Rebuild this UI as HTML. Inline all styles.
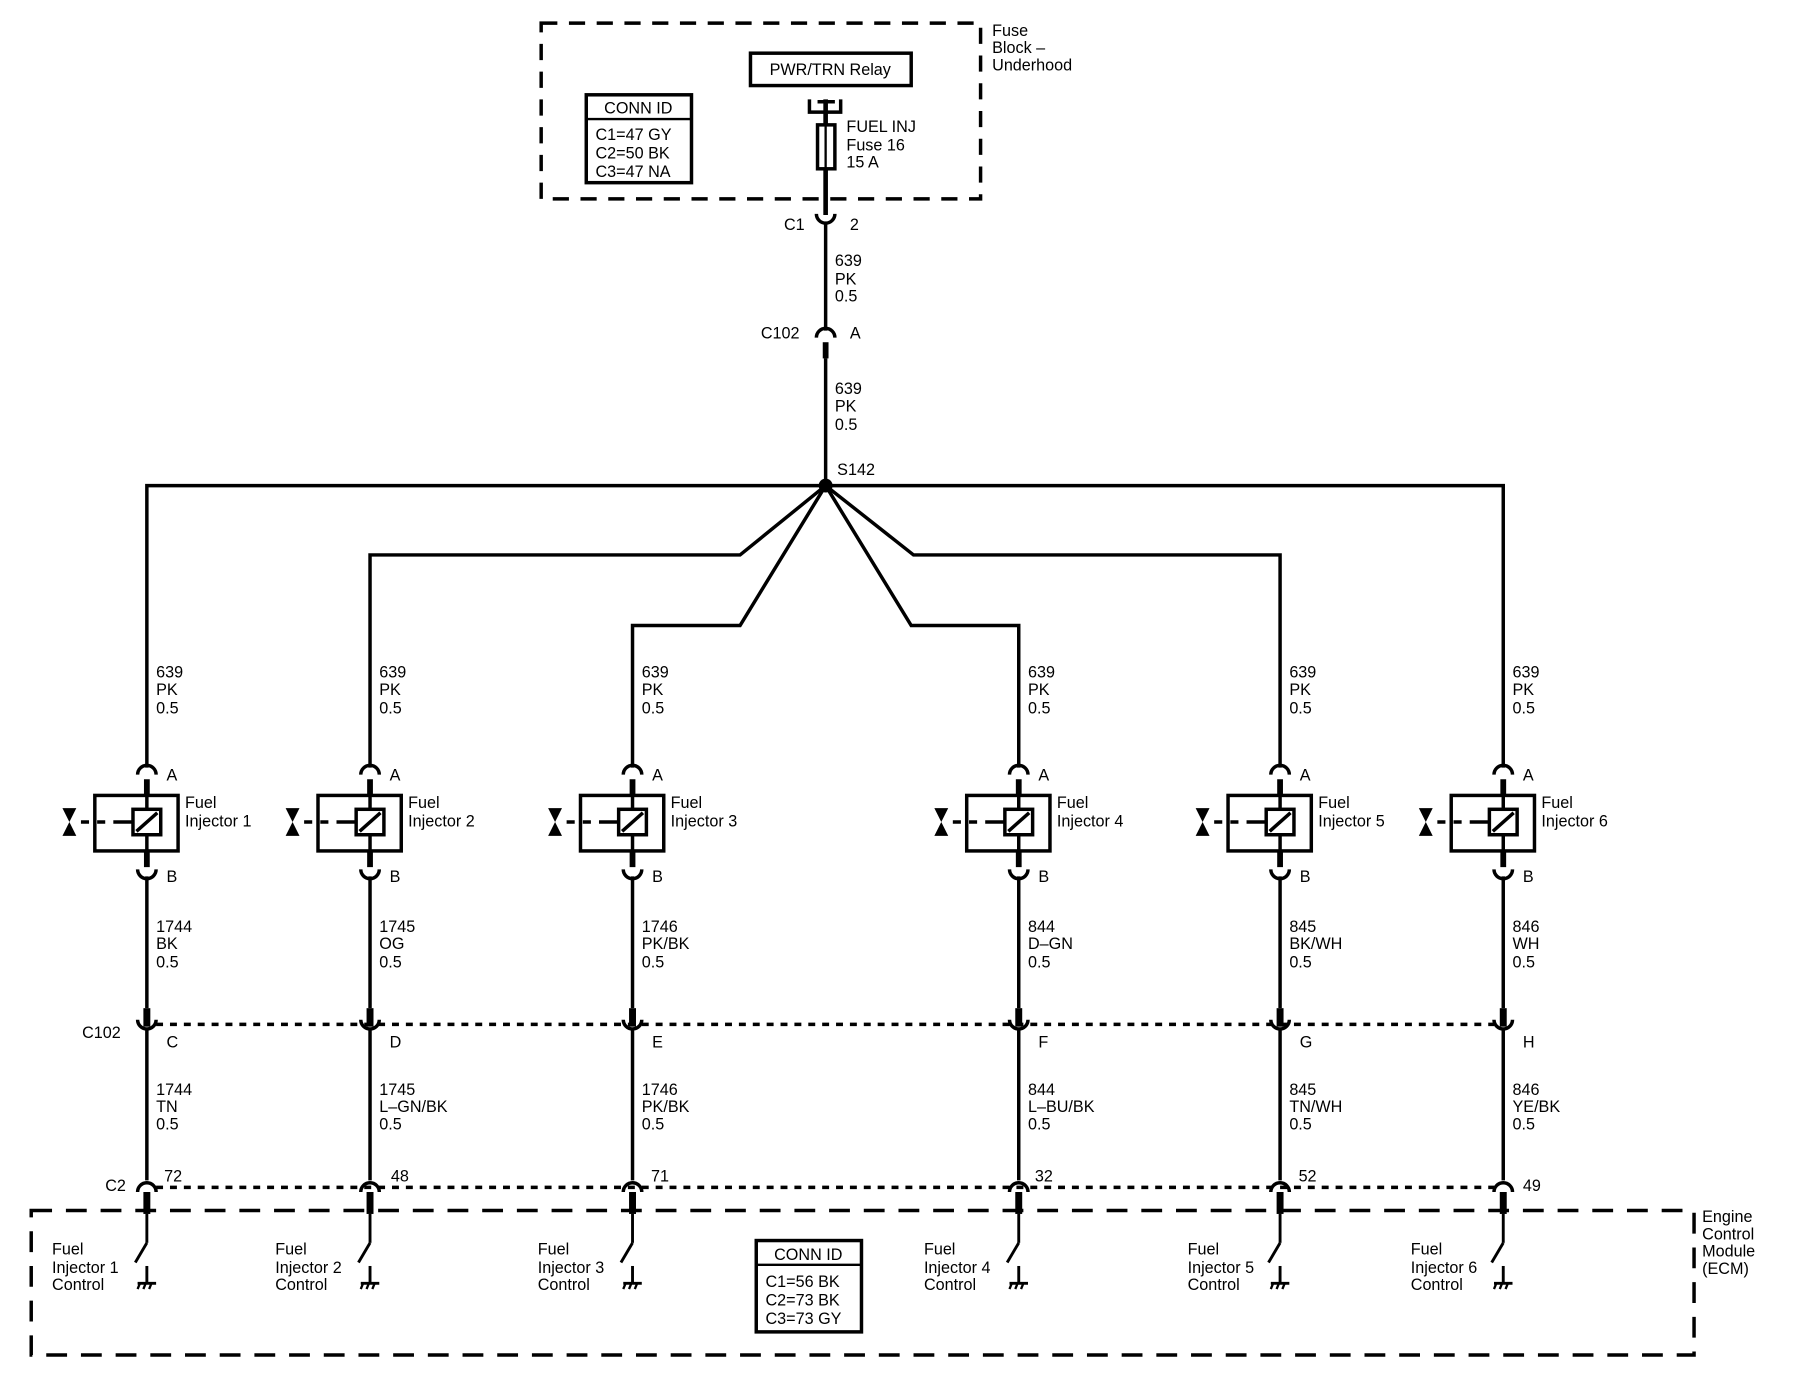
<!DOCTYPE html>
<html><head><style>
html,body{margin:0;padding:0;background:#fff;}
svg{display:block;}
text{font-family:"Liberation Sans",sans-serif;font-size:14px;fill:#000;}
</style></head><body>
<svg width="1812" height="1392" viewBox="0 0 1567 1204" preserveAspectRatio="none" xmlns="http://www.w3.org/2000/svg">
<defs>
<g id="col" fill="none" stroke="#000">
  <path d="M-8,670 A8,8 0 0 1 8,670" stroke-width="3"/>
  <line x1="0" y1="674" x2="0" y2="750" stroke-width="5"/>
  <rect x="-45" y="688" width="72" height="48" stroke-width="3" fill="#fff"/>
  <line x1="0" y1="688" x2="0" y2="736" stroke-width="3"/>
  <rect x="-12" y="700" width="24" height="22" stroke-width="3" fill="#fff"/>
  <line x1="-9" y1="719" x2="9" y2="703" stroke-width="3"/>
  <path d="M-57,711 H-50 M-43,711 H-36 M-29,711 H-12" stroke-width="3"/>
  <polygon points="-73,699 -61,699 -67,711" fill="#000" stroke="none"/>
  <polygon points="-73,723 -61,723 -67,711" fill="#000" stroke="none"/>
  <path d="M-8,752 A8,8 0 0 0 8,752" stroke-width="3"/>
  <line x1="0" y1="758" x2="0" y2="872" stroke-width="3"/>
  <line x1="0" y1="872" x2="0" y2="888" stroke-width="6"/>
  <path d="M-8,882 A8,8 0 0 0 8,882" stroke-width="3"/>
  <line x1="0" y1="890" x2="0" y2="1021" stroke-width="3"/>
  <path d="M-8,1031 A8,8 0 0 1 8,1031" stroke-width="3"/>
  <line x1="0" y1="1031" x2="0" y2="1050" stroke-width="6"/>
  <line x1="0" y1="1050" x2="0" y2="1075" stroke-width="2.5"/>
  <line x1="0" y1="1075" x2="-10" y2="1092" stroke-width="2.5"/>
  <line x1="0" y1="1095" x2="0" y2="1110" stroke-width="2.5"/>
  <line x1="-8" y1="1110" x2="8" y2="1110" stroke-width="2.5"/>
  <path d="M-6,1110 L-8,1115 M-1,1110 L-3,1115 M4,1110 L2,1115" stroke-width="2"/>
</g>
</defs>

<rect x="468" y="20" width="380" height="152" fill="none" stroke="#000" stroke-width="3" stroke-dasharray="14,10"/>
<text x="858" y="31">Fuse</text><text x="858" y="46">Block –</text><text x="858" y="61">Underhood</text>
<rect x="649" y="46" width="139" height="28" fill="none" stroke="#000" stroke-width="3"/>
<text x="718" y="65" text-anchor="middle">PWR/TRN Relay</text>
<rect x="507" y="82" width="91" height="76" fill="none" stroke="#000" stroke-width="3"/>
<line x1="507" y1="103" x2="598" y2="103" stroke="#000" stroke-width="2"/>
<text x="552" y="98" text-anchor="middle">CONN ID</text>
<text x="515" y="121">C1=47 GY</text><text x="515" y="137">C2=50 BK</text><text x="515" y="153">C3=47 NA</text>
<path d="M700,86 V97 H727 V86 M707,88 H722" fill="none" stroke="#000" stroke-width="3"/>
<line x1="714" y1="86" x2="714" y2="186" stroke="#000" stroke-width="4"/>
<rect x="707" y="108" width="15" height="38" fill="#fff" stroke="#000" stroke-width="3"/>
<line x1="714" y1="108" x2="714" y2="146" stroke="#000" stroke-width="2"/>
<text x="732" y="114">FUEL INJ</text><text x="732" y="130">Fuse 16</text><text x="732" y="145">15 A</text>
<path d="M706,185 A8,8 0 0 0 722,185" fill="none" stroke="#000" stroke-width="3"/>
<text x="678" y="199">C1</text><text x="735" y="199">2</text>
<line x1="714" y1="193" x2="714" y2="286" stroke="#000" stroke-width="3"/>
<text x="722" y="230">639</text><text x="722" y="246">PK</text><text x="722" y="261">0.5</text>
<path d="M706,292 A8,8 0 0 1 722,292" fill="none" stroke="#000" stroke-width="3"/>
<text x="658" y="293">C102</text><text x="735" y="293">A</text>
<line x1="714" y1="296" x2="714" y2="310" stroke="#000" stroke-width="5"/>
<line x1="714" y1="310" x2="714" y2="420" stroke="#000" stroke-width="3"/>
<text x="722" y="341">639</text><text x="722" y="356">PK</text><text x="722" y="372">0.5</text>
<text x="724" y="411">S142</text>

<g fill="none" stroke="#000" stroke-width="3">
<path d="M127,664 V420 H1300 V664"/>
<path d="M714,420 L640,480 H320 V664"/>
<path d="M714,420 L790,480 H1107 V664"/>
<path d="M714,420 L640,541 H547 V664"/>
<path d="M714,420 L788,541 H881 V664"/>
</g>
<circle cx="714" cy="420" r="6" fill="#000"/>

<line x1="135" y1="886" x2="1292" y2="886" stroke="#000" stroke-width="3" stroke-dasharray="6,6"/>
<line x1="135" y1="1027" x2="1292" y2="1027" stroke="#000" stroke-width="3" stroke-dasharray="6,6"/>

<rect x="27" y="1047" width="1438" height="125" fill="none" stroke="#000" stroke-width="3" stroke-dasharray="18,12"/>
<text x="1472" y="1057">Engine</text><text x="1472" y="1072">Control</text><text x="1472" y="1087">Module</text><text x="1472" y="1102">(ECM)</text>
<rect x="654" y="1073" width="91" height="79" fill="none" stroke="#000" stroke-width="3"/>
<line x1="654" y1="1094" x2="745" y2="1094" stroke="#000" stroke-width="2"/>
<text x="699" y="1090" text-anchor="middle">CONN ID</text>
<text x="662" y="1113">C1=56 BK</text><text x="662" y="1129">C2=73 BK</text><text x="662" y="1145">C3=73 GY</text>

<text x="71" y="898">C102</text>
<text x="91" y="1030">C2</text>

<use href="#col" x="127"/>
<use href="#col" x="320"/>
<use href="#col" x="547"/>
<use href="#col" x="881"/>
<use href="#col" x="1107"/>
<use href="#col" x="1300"/>

<g transform="translate(127,0)">
<text x="8" y="586">639</text><text x="8" y="601">PK</text><text x="8" y="617">0.5</text>
<text x="17" y="675">A</text><text x="33" y="699">Fuel</text><text x="33" y="715">Injector 1</text><text x="17" y="763">B</text>
<text x="8" y="806">1744</text><text x="8" y="821">BK</text><text x="8" y="837">0.5</text>
<text x="17" y="906">C</text>
<text x="8" y="947">1744</text><text x="8" y="962">TN</text><text x="8" y="977">0.5</text>
<text x="15" y="1022">72</text>
<text x="-82" y="1085">Fuel</text><text x="-82" y="1101">Injector 1</text><text x="-82" y="1116">Control</text>
</g>
<g transform="translate(320,0)">
<text x="8" y="586">639</text><text x="8" y="601">PK</text><text x="8" y="617">0.5</text>
<text x="17" y="675">A</text><text x="33" y="699">Fuel</text><text x="33" y="715">Injector 2</text><text x="17" y="763">B</text>
<text x="8" y="806">1745</text><text x="8" y="821">OG</text><text x="8" y="837">0.5</text>
<text x="17" y="906">D</text>
<text x="8" y="947">1745</text><text x="8" y="962">L–GN/BK</text><text x="8" y="977">0.5</text>
<text x="18" y="1022">48</text>
<text x="-82" y="1085">Fuel</text><text x="-82" y="1101">Injector 2</text><text x="-82" y="1116">Control</text>
</g>
<g transform="translate(547,0)">
<text x="8" y="586">639</text><text x="8" y="601">PK</text><text x="8" y="617">0.5</text>
<text x="17" y="675">A</text><text x="33" y="699">Fuel</text><text x="33" y="715">Injector 3</text><text x="17" y="763">B</text>
<text x="8" y="806">1746</text><text x="8" y="821">PK/BK</text><text x="8" y="837">0.5</text>
<text x="17" y="906">E</text>
<text x="8" y="947">1746</text><text x="8" y="962">PK/BK</text><text x="8" y="977">0.5</text>
<text x="16" y="1022">71</text>
<text x="-82" y="1085">Fuel</text><text x="-82" y="1101">Injector 3</text><text x="-82" y="1116">Control</text>
</g>
<g transform="translate(881,0)">
<text x="8" y="586">639</text><text x="8" y="601">PK</text><text x="8" y="617">0.5</text>
<text x="17" y="675">A</text><text x="33" y="699">Fuel</text><text x="33" y="715">Injector 4</text><text x="17" y="763">B</text>
<text x="8" y="806">844</text><text x="8" y="821">D–GN</text><text x="8" y="837">0.5</text>
<text x="17" y="906">F</text>
<text x="8" y="947">844</text><text x="8" y="962">L–BU/BK</text><text x="8" y="977">0.5</text>
<text x="14" y="1022">32</text>
<text x="-82" y="1085">Fuel</text><text x="-82" y="1101">Injector 4</text><text x="-82" y="1116">Control</text>
</g>
<g transform="translate(1107,0)">
<text x="8" y="586">639</text><text x="8" y="601">PK</text><text x="8" y="617">0.5</text>
<text x="17" y="675">A</text><text x="33" y="699">Fuel</text><text x="33" y="715">Injector 5</text><text x="17" y="763">B</text>
<text x="8" y="806">845</text><text x="8" y="821">BK/WH</text><text x="8" y="837">0.5</text>
<text x="17" y="906">G</text>
<text x="8" y="947">845</text><text x="8" y="962">TN/WH</text><text x="8" y="977">0.5</text>
<text x="16" y="1022">52</text>
<text x="-80" y="1085">Fuel</text><text x="-80" y="1101">Injector 5</text><text x="-80" y="1116">Control</text>
</g>
<g transform="translate(1300,0)">
<text x="8" y="586">639</text><text x="8" y="601">PK</text><text x="8" y="617">0.5</text>
<text x="17" y="675">A</text><text x="33" y="699">Fuel</text><text x="33" y="715">Injector 6</text><text x="17" y="763">B</text>
<text x="8" y="806">846</text><text x="8" y="821">WH</text><text x="8" y="837">0.5</text>
<text x="17" y="906">H</text>
<text x="8" y="947">846</text><text x="8" y="962">YE/BK</text><text x="8" y="977">0.5</text>
<text x="17" y="1030">49</text>
<text x="-80" y="1085">Fuel</text><text x="-80" y="1101">Injector 6</text><text x="-80" y="1116">Control</text>
</g>
</svg>
</body></html>
